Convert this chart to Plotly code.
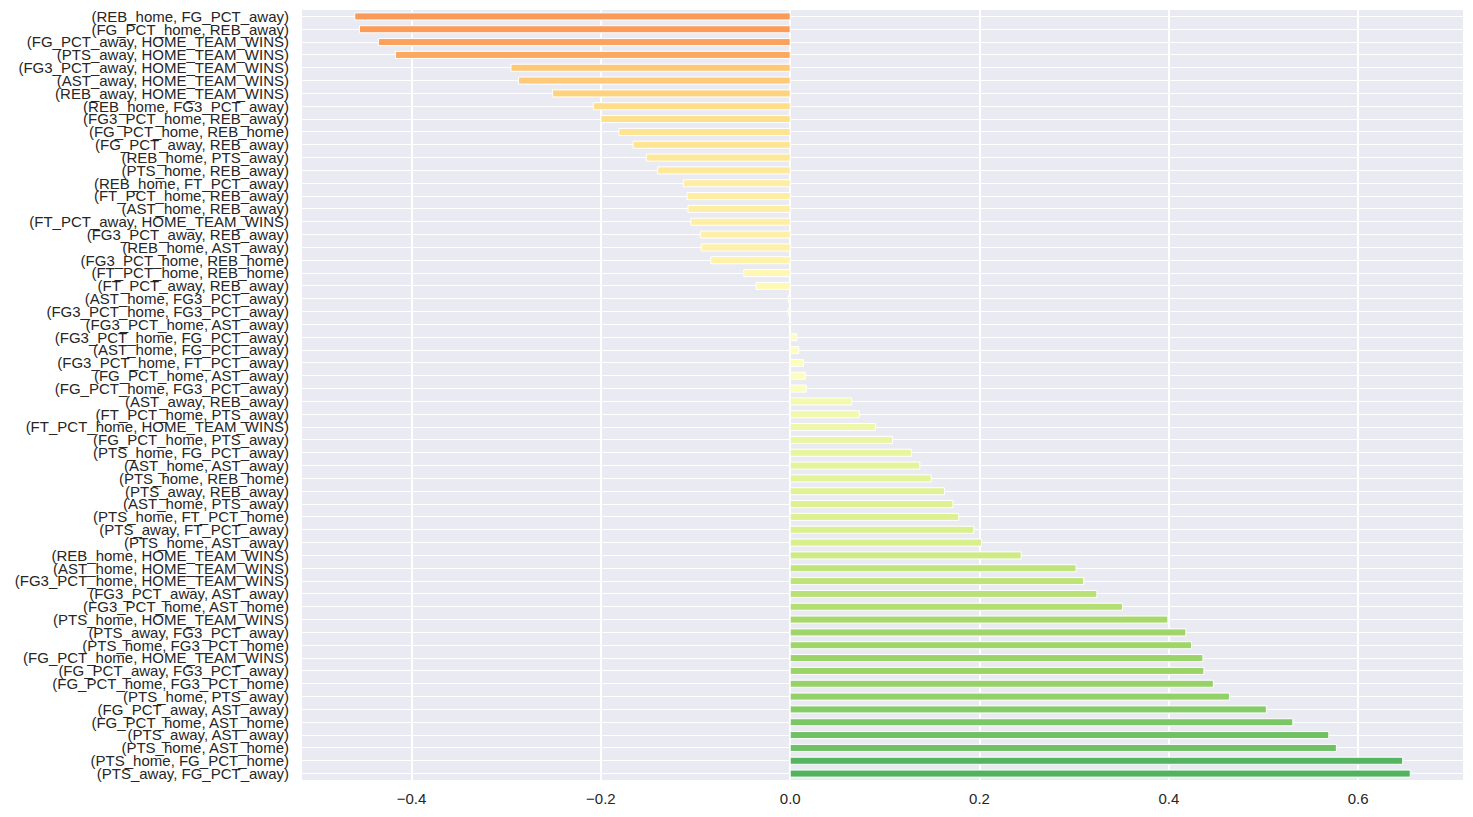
import plotly.graph_objects as go
import plotly.express as px
from plotly.colors import make_colorscale, sample_colorscale

# feature pairs, listed top to bottom as in the chart
pairs = [
    "(REB_home, FG_PCT_away)", "(FG_PCT_home, REB_away)", "(FG_PCT_away, HOME_TEAM_WINS)",
    "(PTS_away, HOME_TEAM_WINS)", "(FG3_PCT_away, HOME_TEAM_WINS)", "(AST_away, HOME_TEAM_WINS)",
    "(REB_away, HOME_TEAM_WINS)", "(REB_home, FG3_PCT_away)", "(FG3_PCT_home, REB_away)",
    "(FG_PCT_home, REB_home)", "(FG_PCT_away, REB_away)", "(REB_home, PTS_away)",
    "(PTS_home, REB_away)", "(REB_home, FT_PCT_away)", "(FT_PCT_home, REB_away)",
    "(AST_home, REB_away)", "(FT_PCT_away, HOME_TEAM_WINS)", "(FG3_PCT_away, REB_away)",
    "(REB_home, AST_away)", "(FG3_PCT_home, REB_home)", "(FT_PCT_home, REB_home)",
    "(FT_PCT_away, REB_away)", "(AST_home, FG3_PCT_away)", "(FG3_PCT_home, FG3_PCT_away)",
    "(FG3_PCT_home, AST_away)", "(FG3_PCT_home, FG_PCT_away)", "(AST_home, FG_PCT_away)",
    "(FG3_PCT_home, FT_PCT_away)", "(FG_PCT_home, AST_away)", "(FG_PCT_home, FG3_PCT_away)",
    "(AST_away, REB_away)", "(FT_PCT_home, PTS_away)", "(FT_PCT_home, HOME_TEAM_WINS)",
    "(FG_PCT_home, PTS_away)", "(PTS_home, FG_PCT_away)", "(AST_home, AST_away)",
    "(PTS_home, REB_home)", "(PTS_away, REB_away)", "(AST_home, PTS_away)",
    "(PTS_home, FT_PCT_home)", "(PTS_away, FT_PCT_away)", "(PTS_home, AST_away)",
    "(REB_home, HOME_TEAM_WINS)", "(AST_home, HOME_TEAM_WINS)", "(FG3_PCT_home, HOME_TEAM_WINS)",
    "(FG3_PCT_away, AST_away)", "(FG3_PCT_home, AST_home)", "(PTS_home, HOME_TEAM_WINS)",
    "(PTS_away, FG3_PCT_away)", "(PTS_home, FG3_PCT_home)", "(FG_PCT_home, HOME_TEAM_WINS)",
    "(FG_PCT_away, FG3_PCT_away)", "(FG_PCT_home, FG3_PCT_home)", "(PTS_home, PTS_away)",
    "(FG_PCT_away, AST_away)", "(FG_PCT_home, AST_home)", "(PTS_away, AST_away)",
    "(PTS_home, AST_home)", "(PTS_home, FG_PCT_home)", "(PTS_away, FG_PCT_away)",
]

corr = [
    -0.460, -0.455, -0.435, -0.417, -0.295, -0.287, -0.251, -0.208, -0.200, -0.181,
    -0.166, -0.152, -0.140, -0.113, -0.109, -0.108, -0.105, -0.095, -0.094, -0.084,
    -0.049, -0.036, -0.002, -0.002, -0.001, 0.007, 0.009, 0.014, 0.016, 0.017,
    0.065, 0.073, 0.090, 0.108, 0.128, 0.137, 0.149, 0.163, 0.172, 0.178,
    0.194, 0.202, 0.244, 0.302, 0.310, 0.324, 0.351, 0.399, 0.418, 0.424,
    0.436, 0.437, 0.447, 0.464, 0.503, 0.531, 0.569, 0.577, 0.647, 0.655,
]

# colour each bar from RdYlGn, value range -1..1
scale = make_colorscale(px.colors.diverging.RdYlGn)
colors = sample_colorscale(scale, [(v + 1) / 2 for v in corr])

fig = go.Figure(go.Bar(
    x=corr,
    y=pairs,
    orientation="h",
    width=0.55,
    marker=dict(color=colors, line=dict(color="white", width=1)),
))

lo, hi = min(corr), max(corr)
pad = (hi - lo) * 0.05

# page body adds 8px around the figure, margins compensate for it
fig.update_layout(
    width=1473,
    height=817,
    paper_bgcolor="white",
    plot_bgcolor="#eaeaf2",
    font=dict(family="Liberation Sans, Arial", size=15, color="#262626"),
    margin=dict(l=294, r=18, t=2, b=45),
    showlegend=False,
)
fig.update_xaxes(
    range=[lo - pad, hi + pad],
    dtick=0.2,
    tick0=0,
    tickformat=".1f",
    showgrid=True,
    gridcolor="white",
    gridwidth=1.7,
    zeroline=False,
    showline=False,
    ticklabelstandoff=8,
    automargin=False,
)
fig.update_yaxes(
    autorange="reversed",
    dtick=1,
    showgrid=True,
    gridcolor="white",
    gridwidth=1,
    showline=False,
    ticklabelstandoff=12,
    automargin=False,
)

fig.write_html("out.html")
